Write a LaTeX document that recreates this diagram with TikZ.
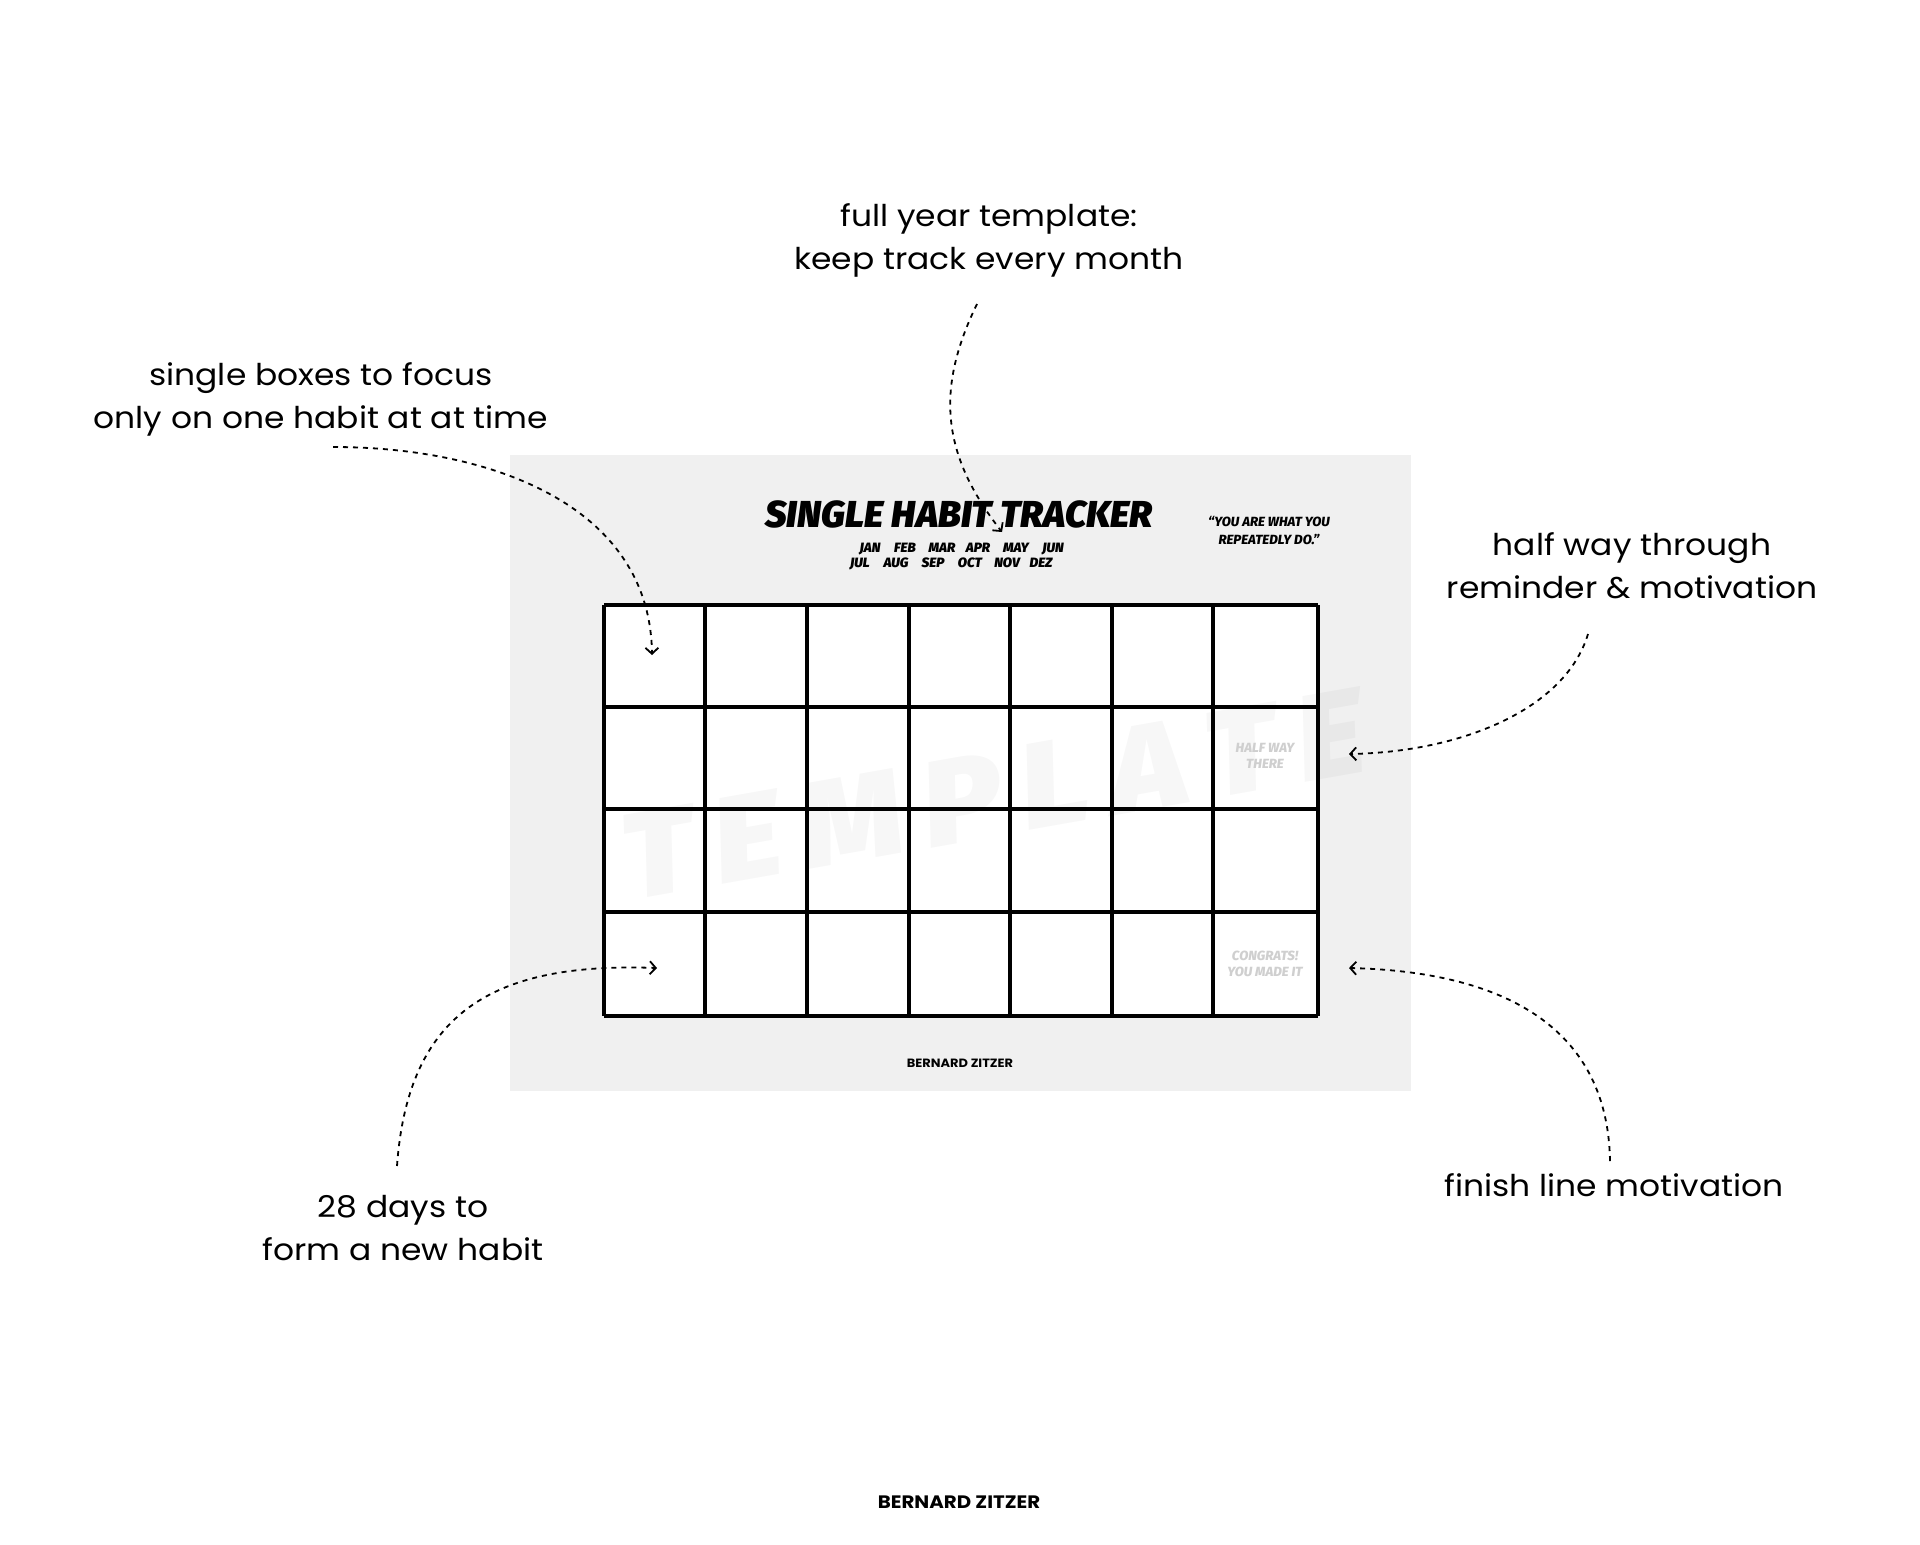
\documentclass[tikz,border=0pt]{standalone}
\usepackage{fontspec}
\usetikzlibrary{arrows.meta}
\setmainfont{Poppins}
\newfontfamily\notefont{Poppins}
\newfontfamily\heavyfont[ItalicFont={Fira Sans ExtraBold Italic},UprightFont={Fira Sans ExtraBold}]{Fira Sans}
\newfontfamily\blackfont[ItalicFont={Fira Sans Black Italic},UprightFont={Fira Sans Black}]{Fira Sans}
\definecolor{panelgray}{HTML}{F0F0F0}
\definecolor{ghostgray}{HTML}{CFCFCF}
\tikzset{
  x=1pt,y=-1pt,
  note/.style={font=\notefont\fontsize{30}{43}\selectfont,align=center,inner sep=0pt,text=black,xscale=1.097,transform shape},
  link/.style={line width=1.8pt,dash pattern=on 5pt off 5pt,-{Straight Barb[length=6pt,width=13pt,line width=1.8pt]}},
  gridline/.style={line width=3.4pt,line cap=square},
  titletext/.style={font=\blackfont\itshape\fontsize{37.5}{37.5}\selectfont,inner sep=0pt},
  monthtext/.style={font=\blackfont\itshape\fontsize{13.5}{13.5}\selectfont,inner sep=0pt,text height=10pt,text depth=0pt},
  quotetext/.style={font=\heavyfont\itshape\fontsize{13.3}{18}\selectfont,inner sep=0pt,align=center},
  ghosttext/.style={font=\heavyfont\itshape\fontsize{13.3}{16}\selectfont,inner sep=0pt,align=center,text=ghostgray},
  brandtext/.style={inner sep=0pt},
}
\begin{document}
\begin{tikzpicture}
\useasboundingbox (0,0) rectangle (1920,1545);
\fill[white] (0,0) rectangle (1920,1545);
\fill[panelgray] (510,455) rectangle (1411,1091);
\fill[white] (604,605) rectangle (1318,1016);
% watermark
\node[rotate=10,xscale=1.07,transform shape,font=\blackfont\itshape\fontsize{122}{122}\selectfont,text=black,text opacity=0.03,inner sep=0pt] (watermark) at (993,794) {T\,E\,M\,P\,L\,A\,T\,E};
% grid
\foreach \gx in {604,705,807,909,1010,1112,1213,1318}
  \draw[gridline] (\gx,605) -- (\gx,1016);
\foreach \gy in {605,707,809,912,1016}
  \draw[gridline] (604,\gy) -- (1318,\gy);
% title block
\node[titletext] (title) at (959,514) {SINGLE HABIT TRACKER};
\foreach \mname/\mx [count=\mi] in {JAN/870,FEB/905,MAR/942,APR/978,MAY/1016,JUN/1053}
  \node[monthtext] (ma\mi) at (\mx,547) {\mname};
\foreach \mname/\mx [count=\mi] in {JUL/860,AUG/896,SEP/933,OCT/970,NOV/1007,DEZ/1041}
  \node[monthtext] (mb\mi) at (\mx,562) {\mname};
\node[quotetext] (quote) at (1269,530) {“YOU ARE WHAT YOU\\REPEATEDLY DO.”};
\node[ghosttext] (halfway) at (1265,756) {HALF WAY\\THERE};
\node[ghosttext] (congrats) at (1265,964) {CONGRATS!\\YOU MADE IT};
\node[brandtext,font=\bfseries\fontsize{12}{12}\selectfont,xscale=1.08,transform shape] (brandin) at (960,1063) {BERNARD ZITZER};
\node[brandtext,font=\bfseries\fontsize{18}{18}\selectfont,xscale=1.1,transform shape] (brandout) at (959,1502) {BERNARD ZITZER};
% annotations
\node[note] (nyear) at (989,240) {full year template:\\keep track every month};
\node[note] (nsingle) at (321,399) {single boxes to focus\\only on one habit at at time};
\node[note] (nhalf) at (1632,566) {half way through\\reminder \& motivation};
\node[note] (nfinish) at (1614,1185) {finish line motivation};
\node[note] (ndays) at (403,1228) {28 days to\\form a new habit};
% connector ends
\coordinate (a1) at (333,447); \coordinate (b1) at (652,655);
\coordinate (a2) at (977,304); \coordinate (b2) at (1002,532);
\coordinate (a3) at (1588,634); \coordinate (b3) at (1349,754);
\coordinate (a4) at (1610,1161); \coordinate (b4) at (1349,968);
\coordinate (a5) at (397,1166); \coordinate (b5) at (657,968);
\draw[link] (a1) .. controls (490,447) and (650,505) .. (b1);
\draw[link] (a2) .. controls (935,390) and (942,455) .. (b2);
\draw[link] (a3) .. controls (1565,710) and (1460,752) .. (b3);
\draw[link] (a4) .. controls (1608,1035) and (1515,972) .. (b4);
\draw[link] (a5) .. controls (408,1013) and (492,962) .. (b5);
\end{tikzpicture}
\end{document}
